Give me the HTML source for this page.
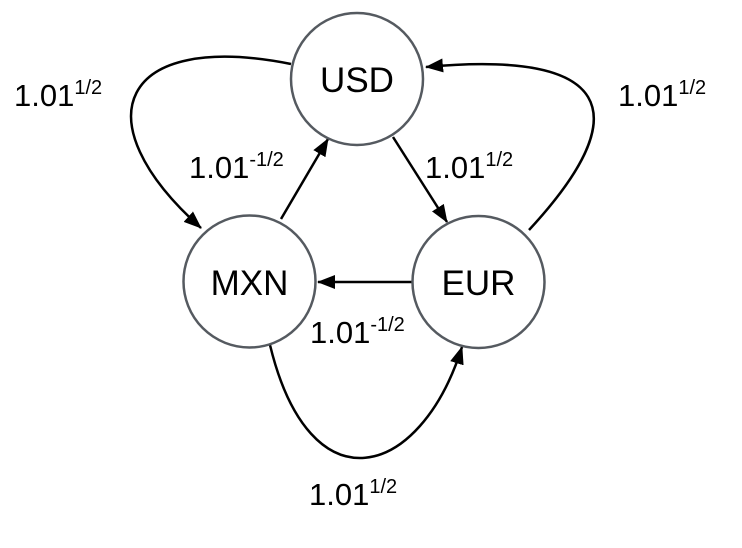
<!DOCTYPE html>
<html><head><style>
html,body{margin:0;padding:0;background:#fff;}
svg{display:block;}
text{font-family:"Liberation Sans",sans-serif;fill:#000;}
</style></head><body>
<svg width="742" height="548" viewBox="0 0 742 548" xmlns="http://www.w3.org/2000/svg">
<defs>
<marker id="a" markerWidth="18" markerHeight="14" refX="17" refY="7" orient="auto" markerUnits="userSpaceOnUse">
<path d="M0,0 L18,7 L0,14 z" fill="#000"/>
</marker>
</defs>
<g fill="none" stroke="#000" stroke-width="2.5">
<path d="M291,64 C120,30 80,120 201,228" marker-end="url(#a)"/>
<path d="M529,230 C640,110 610,50 426,67" marker-end="url(#a)"/>
<path d="M270,345 C310,510 420,480 462,347" marker-end="url(#a)"/>
<path d="M393,137 L447,222" marker-end="url(#a)"/>
<path d="M281,219 L328,139" marker-end="url(#a)"/>
<path d="M412,282 L318,282" marker-end="url(#a)"/>
</g>
<g fill="#fff" stroke="#555a60" stroke-width="2.5">
<circle cx="357" cy="79" r="66"/>
<circle cx="249.5" cy="281.5" r="66"/>
<circle cx="478.5" cy="282" r="66"/>
</g>
<g font-size="35" text-anchor="middle">
<text x="357" y="92">USD</text>
<text x="249.5" y="295">MXN</text>
<text x="478.5" y="295">EUR</text>
</g>
<g font-size="31">
<text x="14" y="106">1.01<tspan font-size="20" dy="-12">1/2</tspan></text>
<text x="618" y="106">1.01<tspan font-size="20" dy="-12">1/2</tspan></text>
<text x="189" y="178">1.01<tspan font-size="20" dy="-12">-1/2</tspan></text>
<text x="425" y="178">1.01<tspan font-size="20" dy="-12">1/2</tspan></text>
<text x="310" y="343">1.01<tspan font-size="20" dy="-12">-1/2</tspan></text>
<text x="309" y="505">1.01<tspan font-size="20" dy="-12">1/2</tspan></text>
</g>
</svg>
</body></html>
